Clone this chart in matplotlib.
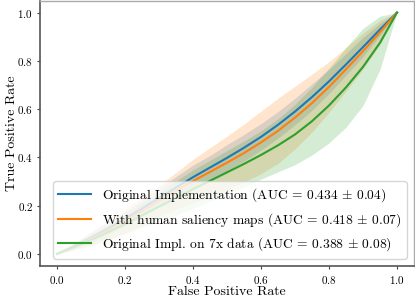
import numpy as np
import matplotlib
matplotlib.use("Agg")
import matplotlib.pyplot as plt

plt.rcParams['font.family'] = ['cmr10', 'DejaVu Serif']
plt.rcParams['mathtext.fontset'] = 'cm'
plt.rcParams['axes.formatter.use_mathtext'] = True

fpr = [0.0, 0.05, 0.1, 0.15, 0.2, 0.25, 0.3, 0.35, 0.4, 0.45, 0.5,
       0.55, 0.6, 0.65, 0.7, 0.75, 0.8, 0.85, 0.9, 0.95, 1.0]

tpr_orig = [0.0, 0.033, 0.068, 0.105, 0.145, 0.188, 0.232, 0.275, 0.318, 0.358, 0.398,
            0.44, 0.485, 0.535, 0.59, 0.65, 0.715, 0.785, 0.857, 0.93, 1.0]
std_orig = [0.0, 0.01, 0.02, 0.025, 0.03, 0.035, 0.04, 0.045, 0.05, 0.05, 0.055,
            0.055, 0.055, 0.055, 0.055, 0.055, 0.05, 0.045, 0.04, 0.025, 0.0]

tpr_human = [0.0, 0.03, 0.063, 0.098, 0.136, 0.178, 0.22, 0.262, 0.302, 0.34, 0.378,
             0.418, 0.462, 0.51, 0.565, 0.625, 0.692, 0.765, 0.84, 0.918, 1.0]
std_human = [0.0, 0.015, 0.03, 0.04, 0.05, 0.06, 0.065, 0.075, 0.09, 0.1, 0.11,
             0.12, 0.13, 0.135, 0.13, 0.12, 0.105, 0.09, 0.075, 0.05, 0.0]

tpr_7x = [0.0, 0.028, 0.058, 0.09, 0.124, 0.16, 0.196, 0.232, 0.268, 0.303, 0.338,
          0.373, 0.41, 0.45, 0.495, 0.55, 0.615, 0.69, 0.775, 0.875, 1.0]
std_7x = [0.0, 0.01, 0.02, 0.03, 0.04, 0.05, 0.06, 0.07, 0.08, 0.085, 0.09,
          0.095, 0.10, 0.11, 0.125, 0.14, 0.155, 0.165, 0.16, 0.11, 0.0]

labels = [
    r'Original Implementation (AUC = 0.434 $\pm$ 0.04)',
    r'With human saliency maps (AUC = 0.418 $\pm$ 0.07)',
    r'Original Impl. on 7x data (AUC = 0.388 $\pm$ 0.08)',
]
series = [(tpr_orig, std_orig), (tpr_human, std_human), (tpr_7x, std_7x)]
colors = ['tab:blue', 'tab:orange', 'tab:green']

fig = plt.figure(figsize=(4.15, 2.97), dpi=100)
ax = fig.add_axes([40/415, 31/297, 374/415, 265.5/297])

x = np.array(fpr)
for (m, s), c, lab in zip(series, colors, labels):
    m = np.array(m); s = np.array(s)
    ax.fill_between(x, np.clip(m - s, 0, 1), np.clip(m + s, 0, 1), color=c, alpha=0.2, linewidth=0)
    ax.plot(x, m, color=c, lw=1.5, label=lab)

ax.set_xticks([0.0, 0.2, 0.4, 0.6, 0.8, 1.0])
ax.set_yticks([0.0, 0.2, 0.4, 0.6, 0.8, 1.0])
ax.tick_params(labelsize=8, length=2.5, width=0.8, color='#444')
ax.tick_params(axis='x', pad=3.5)
ax.tick_params(axis='y', pad=2.5)
ax.set_xlabel('False Positive Rate', fontsize=10)
ax.set_ylabel('True Positive Rate', fontsize=10)
ax.xaxis.set_label_coords(0.5, -0.075)
ax.yaxis.set_label_coords(-0.06, 0.5)
for side in ['left', 'bottom']:
    ax.spines[side].set_color('#555')
    ax.spines[side].set_linewidth(1.2)
for side in ['top', 'right']:
    ax.spines[side].set_color('#aaa')
    ax.spines[side].set_linewidth(1.0)

ax.legend(loc='lower right', fontsize=9.7, framealpha=0.8, edgecolor='#ccc',
          borderaxespad=0.55, handlelength=2.4, labelspacing=0.5)

fig.savefig('out.png', dpi=100)
